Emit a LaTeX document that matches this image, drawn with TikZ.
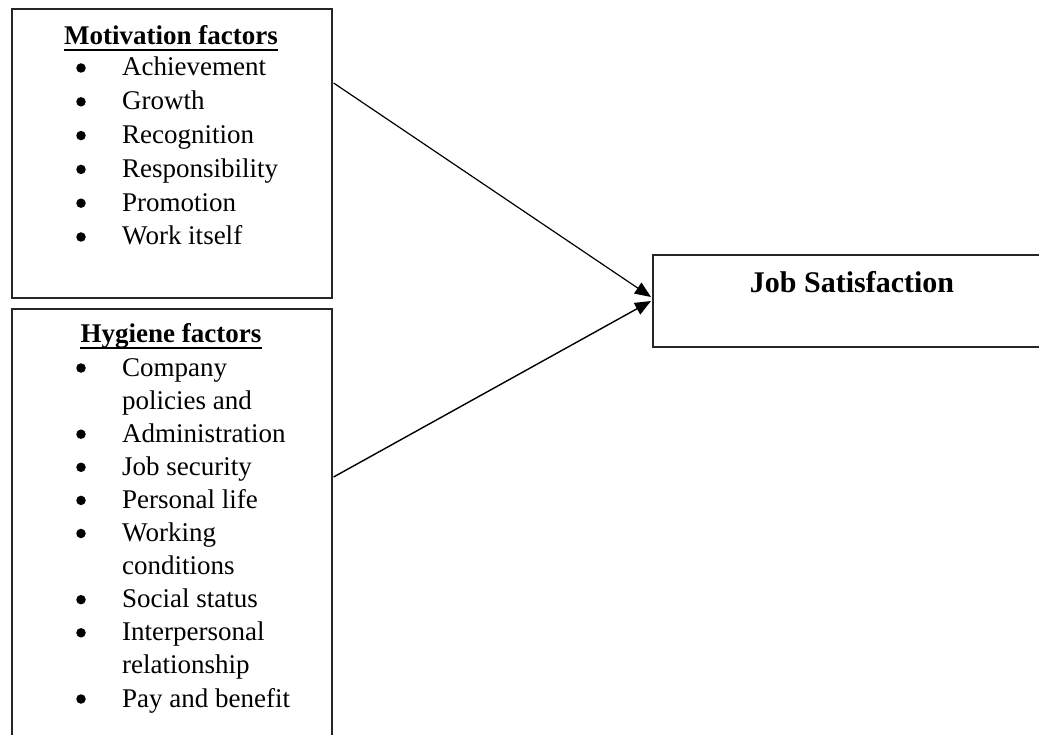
\documentclass[tikz,border=0pt]{standalone}
\usepackage{fontspec}
\setmainfont{Liberation Serif}
\usetikzlibrary{arrows.meta,calc}
\begin{document}
\begin{tikzpicture}[x=1pt,y=-1pt,
  box/.style={draw=black!85,line width=1.6pt,rectangle,inner sep=0pt,anchor=north west},
  item/.style={anchor=base west,inner sep=0pt,font=\fontsize{27}{33}\selectfont},
  ttl/.style={anchor=base,inner sep=0pt,font=\fontsize{27}{33}\selectfont\bfseries},
  bul/.style={circle,fill=black,inner sep=0pt,minimum size=9.5pt},
  uline/.style={line width=1.6pt},
  conn/.style={line width=1.2pt,-{Triangle[length=16pt,width=13pt]}}]
\useasboundingbox (0,0) rectangle (1039,735);
\clip (0,0) rectangle (1039,735);
\fill[white] (0,0) rectangle (1039,735);
% boxes
\node[box,minimum width=320pt,minimum height=289pt] (mot) at (11,8) {};
\node[box,minimum width=320pt,minimum height=440pt] (hyg) at (11,308) {};
\node[box,minimum width=395pt,minimum height=92pt] (job) at (652,254) {};
% motivation
\node[ttl] (mt) at (171,45) {Motivation factors};
\draw[uline] ([yshift=-5pt]mt.base west) -- ([yshift=-5pt]mt.base east);
\foreach \t [count=\i from 0] in {Achievement,Growth,Recognition,Responsibility,Promotion,Work itself}{
  \node[item] (m\i) at (122,76+33.8*\i) {\t};
  \node[bul] (mb\i) at (81,68+33.8*\i) {};
}
% hygiene
\node[ttl] (ht) at (171,343) {Hygiene factors};
\draw[uline] ([yshift=-5pt]ht.base west) -- ([yshift=-5pt]ht.base east);
\foreach \t [count=\i from 0] in {Company,policies and,Administration,Job security,Personal life,Working,conditions,Social status,Interpersonal,relationship,Pay and benefit}{
  \node[item] (h\i) at (122,376+33.1*\i) {\t};
}
\foreach \i in {0,2,3,4,5,7,8,10}{
  \node[bul] (hb\i) at (81,368+33.1*\i) {};
}
% job satisfaction
\node[ttl,font=\fontsize{30}{36}\selectfont\bfseries] (jt) at (852,293) {Job Satisfaction};
% connectors
\coordinate (ms) at ($(mot.north east)+(1,75)$);
\coordinate (hs) at ($(hyg.north east)+(1,169)$);
\coordinate (je1) at ($(job.north west)+(-1,43)$);
\coordinate (je2) at ($(job.north west)+(-1,47)$);
\draw[conn] (ms) -- (je1);
\draw[conn,line width=1.4pt] (hs) -- (je2);
\end{tikzpicture}
\end{document}
